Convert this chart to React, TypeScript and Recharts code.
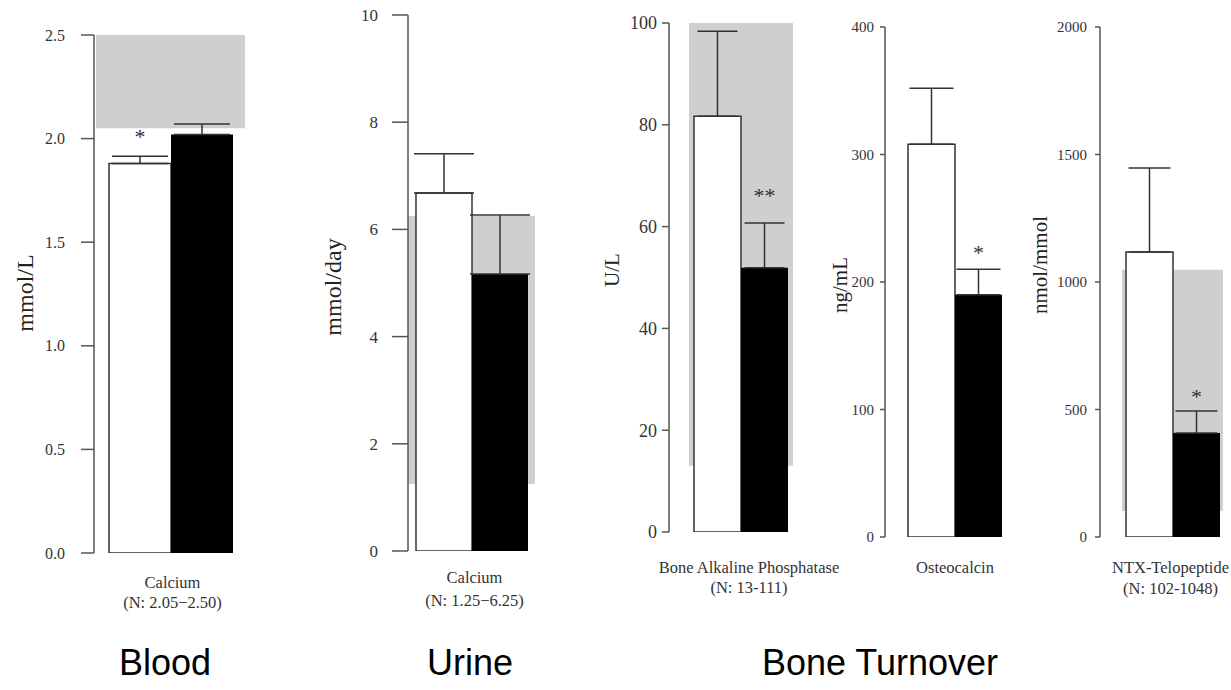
import { BarChart, Bar, XAxis, YAxis, ErrorBar, ReferenceArea, LabelList } from "recharts";

// marker names, normal ranges and units for each panel
const markers = ["Calcium", "Calcium", "Bone Alkaline Phosphatase", "Osteocalcin", "NTX-Telopeptide"];
const normalRanges = ["(N: 2.05\u22122.50)", "(N: 1.25\u22126.25)", "(N: 13-111)", "", "(N: 102-1048)"];
const units = ["mmol/L", "mmol/day", "U/L", "ng/mL", "nmol/mmol"];

// open bars (first group) and filled bars (second group), mean and upper SE
const openMeans = [1.88, 6.68, 81.7, 308, 1118];
const openErrors = [0.035, 0.73, 16.7, 44, 329];
const filledMeans = [2.02, 5.17, 51.9, 190, 408];
const filledErrors = [0.05, 1.1, 8.8, 20, 86];

// significance markers
const openSig = ["*", "", "", "", ""];
const filledSig = ["", "", "**", "*", "*"];

// shaded normal range (null = none)
const rangeLow = [2.05, 1.25, 13, null, 102];
const rangeHigh = [2.5, 6.25, 111, null, 1048];

// y-axis ticks
const yTicks = [
  [0, 0.5, 1, 1.5, 2, 2.5],
  [0, 2, 4, 6, 8, 10],
  [0, 20, 40, 60, 80, 100],
  [0, 100, 200, 300, 400],
  [0, 500, 1000, 1500, 2000],
];
const tickDecimals = [1, 0, 0, 0, 0];

const sections = ["Blood", "Urine", "Bone Turnover"];

const W = 1231;
const H = 690;
const Y_W = 60;
const X_H = 70;
const SERIF = '"Liberation Serif", "Times New Roman", serif';
const SANS = '"Liberation Sans", Arial, sans-serif';

const LAYOUT = [
  { axisX: 94, top: 35, bottom: 553, right: 245, padLeft: 2, barSize: 62, tickSize: 13, tickMargin: 16, tickFont: 16, cap: 28, unitX: 25, unitY: 293, unitFont: 24, line1: 29, line2: 49, labelDx: 2, sigGap: 20 },
  { axisX: 408, top: 15, bottom: 551, right: 535, padLeft: 0, barSize: 56, tickSize: 16, tickMargin: 14, tickFont: 17, cap: 30, unitX: 333, unitY: 287, unitFont: 24, line1: 26, line2: 49, labelDx: 3, sigGap: 0 },
  { axisX: 669, top: 23, bottom: 532, right: 793, padLeft: 20, barSize: 47, tickSize: 7, tickMargin: 5, tickFont: 18, cap: 20, unitX: 612, unitY: 270, unitFont: 21, line1: 35, line2: 55, labelDx: 8, sigGap: 28 },
  { axisX: 885, top: 27, bottom: 537, right: 1025, padLeft: 0, barSize: 47, tickSize: 5, tickMargin: 6, tickFont: 15, cap: 22, unitX: 840, unitY: 285, unitFont: 21, line1: 30, line2: 51, labelDx: 0, sigGap: 17 },
  { axisX: 1100, top: 27, bottom: 537, right: 1223, padLeft: 22, barSize: 47, tickSize: 5, tickMargin: 8, tickFont: 15, cap: 21, unitX: 1040, unitY: 265, unitFont: 21, line1: 30, line2: 51, labelDx: -2, sigGap: 15 },
];

const SECTION_X = [165, 470, 880];

const rows = markers.map((name, i) => ({
  name,
  range: normalRanges[i],
  open: openMeans[i],
  openErr: [0, openErrors[i]],
  openSig: openSig[i],
  filled: filledMeans[i],
  filledErr: [0, filledErrors[i]],
  filledSig: filledSig[i],
}));

const sigLabel = (mean: number, err: number, gap: number) => (props: any) => {
  const vb = props.viewBox ?? props;
  const { x, y, width, height } = vb;
  if (!props.value) return null;
  const perUnit = height / mean;
  const cy = y - err * perUnit - gap;
  return (
    <text x={x + width / 2} y={cy} textAnchor="middle" dominantBaseline="central" fontFamily={SERIF} fontSize={22} fill="#333">
      {props.value}
    </text>
  );
};

const Panel = ({ i }: { i: number }) => {
  const L = LAYOUT[i];
  const row = rows[i];
  const dec = tickDecimals[i];
  const ticks = yTicks[i];
  return (
    <div style={{ position: "absolute", left: 0, top: 0 }}>
      <BarChart
        width={W}
        height={H}
        data={[row]}
        barGap={0}
        margin={{ top: L.top, left: L.axisX - Y_W, right: W - L.right, bottom: H - L.bottom - X_H }}
      >
        <XAxis
          dataKey="name"
          height={X_H}
          axisLine={false}
          tickLine={false}
          padding={{ left: L.padLeft, right: 0 }}
          interval={0}
          tick={(p: any) => (
            <g>
              <text x={p.x + L.labelDx} y={L.bottom + L.line1} textAnchor="middle" dominantBaseline="central" fontFamily={SERIF} fontSize={16.5} fill="#333">
                {p.payload.value}
              </text>
              {row.range && (
                <text x={p.x + L.labelDx} y={L.bottom + L.line2} textAnchor="middle" dominantBaseline="central" fontFamily={SERIF} fontSize={16.5} fill="#333">
                  {row.range}
                </text>
              )}
            </g>
          )}
        />
        <YAxis
          width={Y_W}
          domain={[0, ticks[ticks.length - 1]]}
          ticks={ticks}
          interval={0}
          allowDataOverflow
          tickFormatter={(v: number) => v.toFixed(dec)}
          tickSize={L.tickSize}
          tickMargin={L.tickMargin}
          axisLine={{ stroke: "#555", strokeWidth: 1.5 }}
          tickLine={{ stroke: "#555", strokeWidth: 1.5 }}
          tick={{ fill: "#333", fontSize: L.tickFont, fontFamily: SERIF }}
          label={() => (
            <text
              x={L.unitX}
              y={L.unitY}
              transform={`rotate(-90 ${L.unitX} ${L.unitY})`}
              textAnchor="middle"
              dominantBaseline="central"
              fontFamily={SERIF}
              fontSize={L.unitFont}
              fill="#222"
            >
              {units[i]}
            </text>
          )}
        />
        {rangeLow[i] !== null && (
          <ReferenceArea
            x1={row.name}
            x2={row.name}
            y1={rangeLow[i] as number}
            y2={rangeHigh[i] as number}
            fill="#cfcfcf"
            fillOpacity={1}
            stroke="none"
            ifOverflow="hidden"
          />
        )}
        <Bar dataKey="open" barSize={L.barSize} fill="#fff" stroke="#333" strokeWidth={1.5} isAnimationActive={false}>
          <ErrorBar dataKey="openErr" direction="y" width={L.cap} stroke="#333" strokeWidth={1.5} />
          <LabelList dataKey="openSig" content={sigLabel(row.open, openErrors[i], L.sigGap)} />
        </Bar>
        <Bar dataKey="filled" barSize={L.barSize} fill="#000" isAnimationActive={false}>
          <ErrorBar dataKey="filledErr" direction="y" width={L.cap} stroke="#333" strokeWidth={1.5} />
          <LabelList dataKey="filledSig" content={sigLabel(row.filled, filledErrors[i], L.sigGap)} />
        </Bar>
      </BarChart>
    </div>
  );
};

export default function App() {
  return (
    <div style={{ position: "absolute", left: 0, top: 0, width: W, height: H, background: "#fff", overflow: "hidden" }}>
      {markers.map((_, i) => (
        <Panel key={i} i={i} />
      ))}
      {sections.map((s, i) => (
        <div
          key={s}
          style={{
            position: "absolute",
            left: SECTION_X[i] - 150,
            width: 300,
            top: 640,
            textAlign: "center",
            fontFamily: SANS,
            fontSize: 36,
            lineHeight: "46px",
            color: "#000",
          }}
        >
          {s}
        </div>
      ))}
    </div>
  );
}
